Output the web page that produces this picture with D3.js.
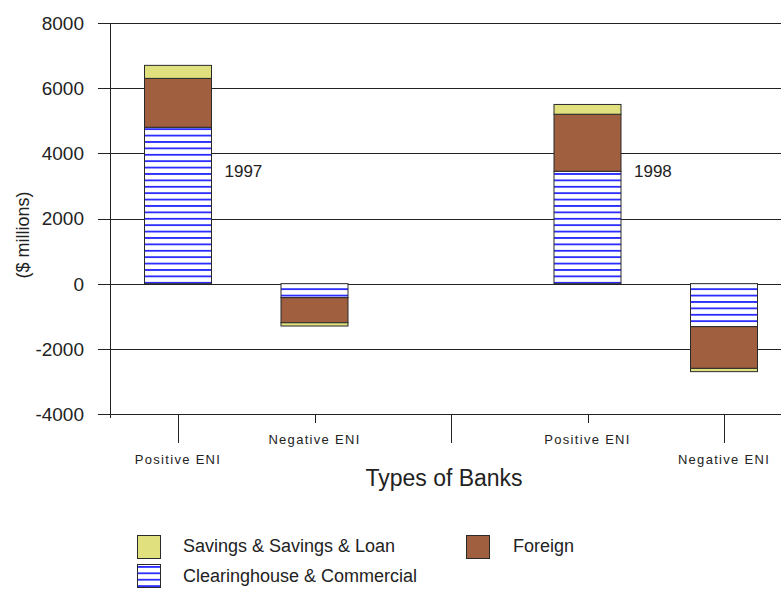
<!DOCTYPE html>
<html>
<head>
<meta charset="utf-8">
<script src="https://cdn.jsdelivr.net/npm/d3@7"></script>
<style>
  html, body { margin: 0; padding: 0; background: #fff; }
  svg { display: block; font-family: "Liberation Sans", Arial, sans-serif; }
</style>
</head>
<body>
<svg id="chart" width="781" height="589"></svg>
<script>
// Bank groups along the x axis (the empty slot separates the two years)
const slots = ["1997-pos", "1997-neg", "sep", "1998-pos", "1998-neg"];
const barSlots = ["1997-pos", "1997-neg", "1998-pos", "1998-neg"];
const categories = ["Positive ENI", "Negative ENI", "Positive ENI", "Negative ENI"];
const labelRow = [1, 0, 0, 1];          // staggered category labels
const years = ["1997", "1998"];
const yearSlots = ["1997-pos", "1998-pos"];

// ENI by bank type, $ millions
const clearinghouse = [4800, -430, 3450, -1320];
const foreign = [1500, -770, 1750, -1280];
const savings = [400, -100, 300, -100];

const yTicks = [-4000, -2000, 0, 2000, 4000, 6000, 8000];
const seriesNames = ["Clearinghouse & Commercial", "Foreign", "Savings & Savings & Loan"];
const seriesKeys = ["clearinghouse", "foreign", "savings"];

const svg = d3.select("#chart");
const W = 781;
const plot = { left: 110, top: 23, bottom: 414 };

const y = d3.scaleLinear().domain([-4000, 8000]).range([plot.bottom, plot.top]);
const x = d3.scalePoint().domain(slots).range([178, 724]);
const barW = 67;

const colors = { savings: "#e0e07e", foreign: "#a05f3e" };

// Horizontal stripe fill for the clearinghouse series
const defs = svg.append("defs");
const pat = defs.append("pattern")
  .attr("id", "stripes")
  .attr("patternUnits", "userSpaceOnUse")
  .attr("width", 8).attr("height", 6.4)
  .attr("patternTransform", `translate(0, ${y(0) + 4.6})`);
pat.append("rect").attr("width", 8).attr("height", 6.4).attr("fill", "#fff");
pat.append("rect").attr("y", 0).attr("width", 8).attr("height", 1.8).attr("fill", "#2a2aff");
const legPat = defs.append("pattern")
  .attr("id", "stripesLegend")
  .attr("patternUnits", "userSpaceOnUse")
  .attr("width", 8).attr("height", 6.4)
  .attr("patternTransform", "translate(0, 566)");
legPat.append("rect").attr("width", 8).attr("height", 6.4).attr("fill", "#fff");
legPat.append("rect").attr("width", 8).attr("height", 1.8).attr("fill", "#2a2aff");

const fills = { clearinghouse: "url(#stripes)", foreign: colors.foreign, savings: colors.savings };

// Gridlines and y ticks
svg.append("g").selectAll("line")
  .data(yTicks)
  .join("line")
  .attr("x1", 98).attr("x2", W)
  .attr("y1", d => Math.round(y(d)) + 0.5).attr("y2", d => Math.round(y(d)) + 0.5)
  .attr("stroke", "#222").attr("stroke-width", 1);

svg.append("g").selectAll("text")
  .data(yTicks)
  .join("text")
  .attr("x", 84)
  .attr("y", d => y(d))
  .attr("dy", "0.36em")
  .attr("text-anchor", "end")
  .attr("font-size", 19)
  .attr("fill", "#222")
  .text(d => d);

// y axis line
svg.append("line")
  .attr("x1", plot.left + 0.5).attr("x2", plot.left + 0.5)
  .attr("y1", plot.top).attr("y2", plot.bottom + 4)
  .attr("stroke", "#222");

// Stacked bars
const rows = barSlots.map((s, i) => ({
  slot: s,
  clearinghouse: clearinghouse[i],
  foreign: foreign[i],
  savings: savings[i]
}));
const stack = d3.stack().keys(seriesKeys).offset(d3.stackOffsetDiverging);
const layers = stack(rows);

svg.append("g").selectAll("g")
  .data(layers)
  .join("g")
  .attr("fill", d => fills[d.key])
  .selectAll("rect")
  .data(d => d)
  .join("rect")
  .attr("x", d => x(d.data.slot) - barW / 2)
  .attr("width", barW)
  .attr("y", d => y(Math.max(d[0], d[1])))
  .attr("height", d => Math.abs(y(d[0]) - y(d[1])))
  .attr("stroke", "#2a2a2a")
  .attr("stroke-width", 1);

// Year labels beside the positive bars
svg.append("g").selectAll("text")
  .data(years)
  .join("text")
  .attr("x", (d, i) => x(yearSlots[i]) + barW / 2 + 13)
  .attr("y", y(3450))
  .attr("dy", "0.36em")
  .attr("font-size", 17)
  .attr("fill", "#222")
  .text(d => d);

// x axis line and ticks
svg.append("line")
  .attr("x1", 98).attr("x2", W)
  .attr("y1", plot.bottom + 0.5).attr("y2", plot.bottom + 0.5)
  .attr("stroke", "#222");

const tickLen = { "1997-pos": 29, "1997-neg": 9, "sep": 29, "1998-pos": 9, "1998-neg": 29 };
svg.append("g").selectAll("line")
  .data(slots)
  .join("line")
  .attr("x1", d => Math.round(x(d)) + 0.5).attr("x2", d => Math.round(x(d)) + 0.5)
  .attr("y1", plot.bottom).attr("y2", d => plot.bottom + tickLen[d])
  .attr("stroke", "#222");

svg.append("g").selectAll("text")
  .data(categories)
  .join("text")
  .attr("x", (d, i) => x(barSlots[i]))
  .attr("y", (d, i) => labelRow[i] ? 464 : 444)
  .attr("text-anchor", "middle")
  .attr("font-size", 13)
  .attr("letter-spacing", 1.3)
  .attr("fill", "#222")
  .text(d => d);

// Axis titles
svg.append("text")
  .attr("transform", `translate(29, 235) rotate(-90)`)
  .attr("text-anchor", "middle")
  .attr("font-size", 18)
  .attr("fill", "#222")
  .text("($ millions)");

svg.append("text")
  .attr("x", 444).attr("y", 486)
  .attr("text-anchor", "middle")
  .attr("font-size", 23)
  .attr("fill", "#222")
  .text("Types of Banks");

// Legend
const legend = [
  { key: "savings", x: 137, y: 535, tx: 183, ty: 552 },
  { key: "foreign", x: 466, y: 535, tx: 513, ty: 552 },
  { key: "clearinghouse", x: 137, y: 564, tx: 183, ty: 582 }
];
const lg = svg.append("g");
lg.selectAll("rect")
  .data(legend)
  .join("rect")
  .attr("x", d => d.x + 0.5).attr("y", d => d.y + 0.5)
  .attr("width", 23).attr("height", 23)
  .attr("fill", d => d.key === "clearinghouse" ? "url(#stripesLegend)" : fills[d.key])
  .attr("stroke", "#2a2a2a");
lg.selectAll("text")
  .data(legend)
  .join("text")
  .attr("x", d => d.tx).attr("y", d => d.ty)
  .attr("font-size", 18)
  .attr("fill", "#222")
  .text(d => seriesNames[seriesKeys.indexOf(d.key)]);
</script>
</body>
</html>
